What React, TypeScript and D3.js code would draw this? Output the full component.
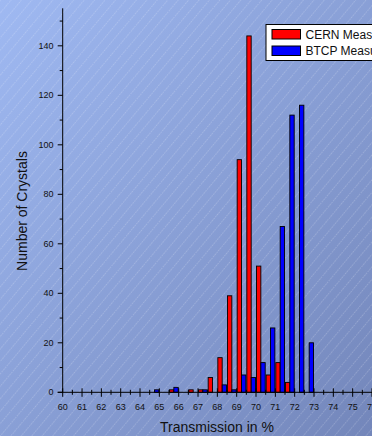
import React from "react";
import * as d3 from "d3";

const binCenters = [64.75, 65.25, 65.75, 66.25, 66.75, 67.25, 67.75, 68.25, 68.75, 69.25, 69.75, 70.25, 70.75, 71.25, 71.75, 72.25, 72.75];
const cernCounts = [0, 0, 1, 0, 1, 1, 6, 14, 39, 94, 144, 51, 7, 12, 4, 0, 0];
const btcpCounts = [1, 0, 2, 0, 0, 1, 0, 3, 1, 7, 6, 12, 26, 67, 112, 116, 20];
const seriesNames = ["CERN Measurement", "BTCP Measurement"];
const xMajorTicks = [60, 61, 62, 63, 64, 65, 66, 67, 68, 69, 70, 71, 72, 73, 74, 75, 76];
const yMajorTicks = [0, 20, 40, 60, 80, 100, 120, 140];
const yMinorTicks = [10, 30, 50, 70, 90, 110, 130, 150];
const xTitle = "Transmission in %";
const yTitle = "Number of Crystals";

const W = 372;
const H = 436;
const FONT = "'Liberation Sans', Arial, sans-serif";

export default function App() {
  const x = d3.scaleLinear().domain([60, 76]).range([62.7, 372]);
  const y = d3.scaleLinear().domain([0, 155]).range([392.3, 8.7]);
  const halfW = 0.225;
  const xMinor = d3.range(60.5, 76, 1);

  const bars: { x0: number; x1: number; v: number; color: string }[] = [];
  binCenters.forEach((c, i) => {
    if (cernCounts[i] > 0) bars.push({ x0: x(c - halfW), x1: x(c), v: cernCounts[i], color: "#ff0000" });
    if (btcpCounts[i] > 0) bars.push({ x0: x(c), x1: x(c + halfW), v: btcpCounts[i], color: "#0000ff" });
  });

  return (
    <svg width={W} height={H} style={{ position: "absolute", left: 0, top: 0 }} fontFamily={FONT}>
      <defs>
        <linearGradient id="bg" x1="0" y1="0" x2="1" y2="1">
          <stop offset="0" stopColor="#9fb9f2" />
          <stop offset="1" stopColor="#7386ba" />
        </linearGradient>
        <pattern id="hatch" width="8" height="8" patternUnits="userSpaceOnUse" patternTransform="rotate(40)">
          <line x1="0" y1="0" x2="0" y2="8" stroke="#ffffff" strokeWidth="0.9" strokeOpacity="0.45" strokeDasharray="1.5,1" />
        </pattern>
      </defs>
      <rect x={0} y={0} width={W} height={H} fill="url(#bg)" />
      <rect x={0} y={0} width={W} height={H} fill="url(#hatch)" />

      {bars.map((b, i) => (
        <rect key={i} x={b.x0} y={y(b.v)} width={b.x1 - b.x0} height={y(0) - y(b.v)} fill={b.color} stroke="#000" strokeWidth={0.9} />
      ))}

      {/* y axis */}
      <line x1={x(60)} x2={x(60)} y1={y(0)} y2={8.3} stroke="#000" strokeWidth={1} />
      {yMajorTicks.map((t) => (
        <g key={"ym" + t}>
          <line x1={x(60) - 5} x2={x(60)} y1={y(t)} y2={y(t)} stroke="#000" strokeWidth={1} />
          <text x={53.5} y={y(t)} textAnchor="end" dominantBaseline="central" fontSize={9} fill="#111">{t}</text>
        </g>
      ))}
      {yMinorTicks.map((t) => (
        <line key={"yn" + t} x1={x(60) - 3} x2={x(60)} y1={y(t)} y2={y(t)} stroke="#000" strokeWidth={1} />
      ))}

      {/* x axis */}
      <line x1={x(60) - 5} x2={W} y1={y(0)} y2={y(0)} stroke="#000" strokeWidth={1} />
      {xMajorTicks.map((t) => (
        <g key={"xm" + t}>
          <line x1={x(t)} x2={x(t)} y1={y(0) - 4} y2={y(0) + 4.5} stroke="#000" strokeWidth={1} />
          <text x={x(t)} y={409.5} textAnchor="middle" fontSize={9} fill="#111">{t}</text>
        </g>
      ))}
      {xMinor.map((t) => (
        <line key={"xn" + t} x1={x(t)} x2={x(t)} y1={y(0) - 2.5} y2={y(0) + 2.5} stroke="#000" strokeWidth={1} />
      ))}

      <text x={217} y={432} textAnchor="middle" fontSize={14} fill="#111">{xTitle}</text>
      <text transform={`translate(27,211) rotate(-90)`} textAnchor="middle" fontSize={14} fill="#111">{yTitle}</text>

      {/* legend */}
      <rect x={266} y={24.5} width={130} height={36} fill="#ffffff" stroke="#000" strokeWidth={1} />
      <rect x={272} y={29.5} width={28.5} height={9.5} fill="#ff0000" stroke="#000" strokeWidth={1} />
      <rect x={272} y={46} width={28.5} height={9.5} fill="#0000ff" stroke="#000" strokeWidth={1} />
      <text x={305.5} y={38.5} fontSize={12} fill="#111">{seriesNames[0]}</text>
      <text x={305.5} y={55} fontSize={12} fill="#111">{seriesNames[1]}</text>
    </svg>
  );
}
